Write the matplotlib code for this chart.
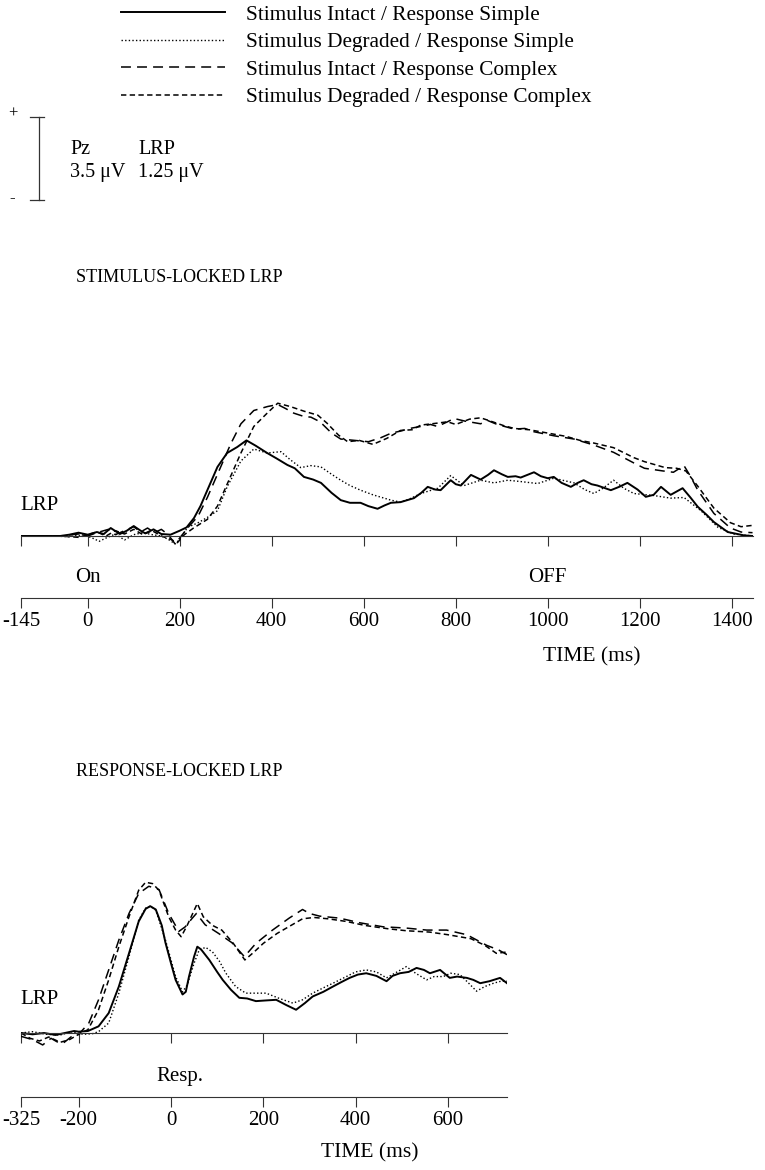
import matplotlib
matplotlib.use("Agg")
import matplotlib.pyplot as plt

plt.rcParams["font.family"] = ["Liberation Serif", "DejaVu Serif"]

# ---------------------------------------------------------------------------
# Data (ms, µV)
# ---------------------------------------------------------------------------
LABELS = [
    "Stimulus Intact / Response Simple",
    "Stimulus Degraded / Response Simple",
    "Stimulus Intact / Response Complex",
    "Stimulus Degraded / Response Complex",
]

# stimulus-locked LRP
stim_t_is = [-145, -100, -60, -40, -20, 0, 20, 35, 50, 70, 85, 100, 115, 125, 143, 160, 180,
             200, 215, 231, 245, 260, 282, 303, 325, 345, 365, 390, 410, 434, 450, 470, 490,
             507, 530, 550, 570, 593, 610, 630, 645, 659, 680, 709, 725, 739, 755, 767, 789,
             800, 811, 833, 854, 870, 883, 900, 913, 930, 941, 970, 985, 1000, 1013, 1030,
             1050, 1065, 1078, 1095, 1108, 1137, 1155, 1173, 1195, 1213, 1230, 1246, 1267,
             1293, 1310, 1326, 1345, 1361, 1391, 1426, 1445]
stim_v_is = [0.0, 0.0, 0.0, 0.02, 0.05, 0.02, 0.06, 0.03, 0.12, 0.03, 0.08, 0.15, 0.08, 0.04,
             0.10, 0.03, 0.02, 0.08, 0.13, 0.27, 0.45, 0.69, 1.04, 1.25, 1.34, 1.44, 1.36, 1.25,
             1.17, 1.07, 1.02, 0.89, 0.85, 0.80, 0.65, 0.54, 0.50, 0.50, 0.45, 0.41, 0.46, 0.50,
             0.51, 0.57, 0.65, 0.74, 0.70, 0.69, 0.84, 0.78, 0.76, 0.92, 0.85, 0.92, 0.99, 0.93,
             0.89, 0.90, 0.88, 0.96, 0.90, 0.87, 0.89, 0.80, 0.74, 0.80, 0.84, 0.78, 0.76, 0.69,
             0.74, 0.80, 0.70, 0.59, 0.62, 0.74, 0.62, 0.72, 0.58, 0.44, 0.32, 0.21, 0.06, 0.01,
             0.0]

stim_t_ds = [-145, -80, -40, -10, 10, 25, 40, 60, 80, 100, 120, 140, 160, 175, 190, 200, 217,
             240, 260, 282, 303, 333, 361, 390, 420, 440, 463, 485, 507, 530, 550, 570, 593,
             620, 659, 680, 700, 724, 761, 789, 818, 854, 883, 913, 941, 978, 1013, 1057, 1080,
             1100, 1120, 1143, 1165, 1187, 1230, 1267, 1296, 1333, 1370, 1404, 1445]
stim_v_ds = [0.0, 0.0, -0.01, 0.02, -0.03, -0.08, -0.03, 0.03, -0.06, 0.02, 0.05, 0.02, 0.0,
             -0.05, -0.12, -0.05, 0.13, 0.20, 0.28, 0.38, 0.74, 1.13, 1.31, 1.25, 1.27, 1.15,
             1.03, 1.06, 1.04, 0.93, 0.84, 0.76, 0.69, 0.62, 0.54, 0.51, 0.56, 0.64, 0.72, 0.91,
             0.76, 0.84, 0.80, 0.84, 0.82, 0.79, 0.87, 0.80, 0.70, 0.64, 0.72, 0.84, 0.72, 0.64,
             0.61, 0.57, 0.58, 0.38, 0.13, 0.03, 0.0]

stim_t_ic = [-145, -60, -20, 0, 20, 45, 60, 80, 100, 115, 130, 145, 160, 175, 190, 200, 217,
             240, 260, 289, 311, 333, 361, 391, 413, 430, 448, 470, 485, 505, 530, 550, 580,
             610, 637, 660, 680, 700, 724, 745, 760, 782, 796, 820, 854, 869, 890, 927, 950,
             970, 1013, 1057, 1100, 1143, 1165, 1187, 1210, 1230, 1250, 1273, 1296, 1310,
             1326, 1361, 1397, 1420, 1445]
stim_v_ic = [0.0, 0.0, 0.03, 0.0, 0.05, 0.10, 0.02, 0.08, 0.14, 0.06, 0.12, 0.05, 0.10, 0.02,
             -0.12, -0.03, 0.12, 0.30, 0.58, 1.04, 1.39, 1.69, 1.89, 1.95, 1.98, 1.92, 1.85,
             1.80, 1.79, 1.72, 1.55, 1.46, 1.44, 1.42, 1.48, 1.55, 1.58, 1.62, 1.65, 1.68, 1.65,
             1.72, 1.77, 1.73, 1.69, 1.74, 1.68, 1.61, 1.62, 1.57, 1.51, 1.46, 1.37, 1.26, 1.18,
             1.10, 1.02, 1.00, 0.98, 0.96, 1.06, 0.90, 0.69, 0.34, 0.12, 0.06, 0.05]

stim_t_dc = [-145, -60, -20, 0, 20, 40, 60, 80, 100, 120, 140, 160, 180, 195, 210, 230, 260,
             282, 303, 333, 361, 390, 413, 440, 470, 500, 520, 545, 565, 590, 620, 650, 680,
             705, 724, 760, 782, 800, 830, 854, 880, 905, 927, 960, 1000, 1040, 1070, 1100,
             1143, 1187, 1210, 1230, 1255, 1280, 1300, 1326, 1361, 1397, 1420, 1445]
stim_v_dc = [0.0, 0.0, -0.02, 0.02, 0.06, 0.0, 0.08, 0.03, 0.10, 0.02, 0.08, 0.0, -0.05,
             -0.10, 0.02, 0.12, 0.25, 0.45, 0.78, 1.25, 1.65, 1.85, 2.0, 1.95, 1.88, 1.82, 1.70,
             1.52, 1.42, 1.44, 1.38, 1.47, 1.59, 1.60, 1.67, 1.70, 1.72, 1.68, 1.76, 1.78, 1.72,
             1.66, 1.62, 1.60, 1.55, 1.50, 1.44, 1.40, 1.33, 1.18, 1.12, 1.08, 1.03, 1.02, 0.98,
             0.75, 0.42, 0.20, 0.14, 0.16]

# response-locked LRP
resp_t_is = [-325, -300, -275, -250, -230, -210, -200, -180, -157, -135, -113, -91, -70, -55,
             -45, -33, -20, -12, 0, 10, 25, 32, 39, 50, 57, 65, 83, 100, 112, 130, 148, 165,
             184, 205, 228, 250, 271, 290, 307, 330, 351, 370, 387, 405, 423, 445, 467, 480,
             496, 515, 532, 548, 561, 583, 604, 620, 641, 655, 670, 690, 713, 728]
resp_v_is = [0.0, -0.02, 0.0, -0.03, 0.0, 0.03, 0.02, 0.03, 0.10, 0.30, 0.70, 1.20, 1.68, 1.87,
             1.91, 1.86, 1.62, 1.36, 1.05, 0.80, 0.58, 0.62, 0.85, 1.15, 1.30, 1.26, 1.10, 0.92,
             0.80, 0.65, 0.53, 0.52, 0.48, 0.49, 0.50, 0.42, 0.35, 0.45, 0.55, 0.62, 0.70, 0.77,
             0.83, 0.88, 0.90, 0.86, 0.78, 0.86, 0.90, 0.92, 0.98, 0.95, 0.90, 0.95, 0.83, 0.85,
             0.83, 0.80, 0.75, 0.78, 0.83, 0.75]

resp_t_ds = [-325, -300, -270, -240, -215, -190, -170, -157, -135, -113, -91, -70, -55, -45,
             -33, -12, 10, 25, 35, 50, 61, 75, 90, 105, 119, 140, 162, 185, 206, 235, 264, 285,
             307, 330, 351, 380, 400, 423, 445, 467, 490, 510, 530, 554, 570, 590, 606, 626,
             645, 662, 680, 699, 715, 728]
resp_v_ds = [0.0, 0.02, -0.02, -0.03, 0.02, -0.02, -0.01, 0.02, 0.15, 0.60, 1.15, 1.70, 1.88,
             1.91, 1.85, 1.40, 0.85, 0.62, 0.72, 1.05, 1.25, 1.29, 1.22, 1.08, 0.90, 0.70, 0.60,
             0.60, 0.60, 0.52, 0.45, 0.50, 0.60, 0.68, 0.75, 0.85, 0.92, 0.95, 0.92, 0.83, 0.92,
             1.0, 0.90, 0.80, 0.85, 0.85, 0.90, 0.88, 0.75, 0.63, 0.70, 0.75, 0.78, 0.78]

resp_t_ic = [-325, -300, -278, -260, -245, -233, -215, -200, -178, -157, -135, -113, -91, -70,
             -48, -26, -5, 17, 31, 45, 55, 74, 103, 132, 150, 159, 184, 220, 256, 285, 300, 322,
             365, 409, 459, 510, 554, 597, 641, 684, 710, 728]
resp_v_ic = [-0.05, -0.10, -0.18, -0.08, -0.14, -0.15, -0.05, -0.02, 0.15, 0.50, 0.95, 1.40,
             1.80, 2.10, 2.21, 2.16, 1.80, 1.53, 1.60, 1.72, 1.80, 1.63, 1.50, 1.36, 1.22, 1.15,
             1.35, 1.55, 1.73, 1.86, 1.80, 1.76, 1.73, 1.66, 1.60, 1.58, 1.55, 1.55, 1.48, 1.32,
             1.25, 1.18]

resp_t_dc = [-325, -305, -285, -265, -240, -220, -200, -180, -157, -135, -113, -91, -70, -55,
             -40, -26, -5, 10, 22, 35, 57, 70, 90, 110, 135, 160, 180, 200, 230, 260, 285, 310,
             340, 380, 420, 470, 510, 560, 600, 650, 680, 705, 728]
resp_v_dc = [0.0, -0.08, -0.12, -0.06, -0.14, -0.10, -0.02, 0.05, 0.35, 0.80, 1.30, 1.75,
             2.15, 2.27, 2.25, 2.15, 1.75, 1.55, 1.45, 1.62, 1.95, 1.75, 1.62, 1.55, 1.35, 1.10,
             1.22, 1.35, 1.50, 1.62, 1.72, 1.74, 1.72, 1.68, 1.62, 1.57, 1.54, 1.52, 1.48, 1.42,
             1.32, 1.20, 1.22]

STIM_TICKS = [-145, 0, 200, 400, 600, 800, 1000, 1200, 1400]
RESP_TICKS = [-325, -200, 0, 200, 400, 600]

# ---------------------------------------------------------------------------
# Layout helpers (pixel -> figure fraction)
# ---------------------------------------------------------------------------
W, H = 765, 1170
PX_PER_UV = 66.4          # 1.25 µV LRP scale bar is ~83 px tall


def fx(px):
    return px / W


def fy(py):
    return 1 - py / H


STYLES = [
    dict(color="black", lw=1.4, ls="-"),
    dict(color="black", lw=1.0, ls=(0, (1, 1.6))),
    dict(color="black", lw=1.1, ls=(0, (6.5, 4))),
    dict(color="black", lw=1.1, ls=(0, (3.5, 2.2))),
]

fig = plt.figure(figsize=(W / 100, H / 100), dpi=100, facecolor="white")


def panel(t_series, v_series, xlim, ticks, left, right, base_y, top_y, bot_y, axis_y):
    """Trace axes with zero-line ticks plus a separate time axis underneath."""
    ylim = ((base_y - bot_y) / PX_PER_UV, (base_y - top_y) / PX_PER_UV)
    ax = fig.add_axes([fx(left), fy(bot_y), fx(right - left), (bot_y - top_y) / H])
    ax.set_xlim(*xlim)
    ax.set_ylim(*ylim)
    ax.patch.set_visible(False)
    for s in ("left", "right", "top"):
        ax.spines[s].set_visible(False)
    ax.spines["bottom"].set_position(("data", 0))
    ax.spines["bottom"].set_linewidth(0.8)
    ax.spines["bottom"].set_color("#333333")
    ax.set_yticks([])
    ax.set_xticks(ticks)
    ax.tick_params(axis="x", direction="out", length=7, width=0.8, color="#333333",
                   labelbottom=False)
    lines = []
    for t, v, st in zip(t_series, v_series, STYLES):
        ln, = ax.plot(t, v, **st)
        lines.append(ln)

    tax = fig.add_axes([fx(left), fy(axis_y), fx(right - left), 0.0001])
    tax.set_xlim(*xlim)
    tax.patch.set_visible(False)
    for s in ("left", "right", "top"):
        tax.spines[s].set_visible(False)
    tax.spines["bottom"].set_linewidth(0.8)
    tax.spines["bottom"].set_color("#333333")
    tax.set_yticks([])
    tax.set_xticks(ticks)
    tax.set_xticklabels([str(v) for v in ticks], fontsize=15)
    tax.tick_params(axis="x", direction="out", length=7, width=0.8, color="#333333", pad=3)
    return ax, lines


# stimulus-locked panel
ax1, handles = panel([stim_t_is, stim_t_ds, stim_t_ic, stim_t_dc],
                     [stim_v_is, stim_v_ds, stim_v_ic, stim_v_dc],
                     (-145, 1446), STIM_TICKS, 21, 753, 536, 380, 560, 598)
ax1.text(0, (536 - 577) / PX_PER_UV, "On", ha="center", va="center", fontsize=15)
ax1.text(1000, (536 - 577) / PX_PER_UV, "OFF", ha="center", va="center", fontsize=15)
ax1.text(1095, (536 - 657) / PX_PER_UV, "TIME (ms)", ha="center", va="center", fontsize=15.5)
fig.text(fx(20), fy(505), "LRP", ha="left", va="center", fontsize=15)
fig.text(fx(76), fy(278), "STIMULUS-LOCKED LRP", ha="left", va="center", fontsize=13)

# response-locked panel
ax2, _ = panel([resp_t_is, resp_t_ds, resp_t_ic, resp_t_dc],
               [resp_v_is, resp_v_ds, resp_v_ic, resp_v_dc],
               (-325, 728), RESP_TICKS, 21, 507, 1033, 860, 1055, 1097)
ax2.text(20, (1033 - 1077) / PX_PER_UV, "Resp.", ha="center", va="center", fontsize=15)
ax2.text(430, (1033 - 1153) / PX_PER_UV, "TIME (ms)", ha="center", va="center", fontsize=15.5)
fig.text(fx(20), fy(1000), "LRP", ha="left", va="center", fontsize=15)
fig.text(fx(76), fy(772), "RESPONSE-LOCKED LRP", ha="left", va="center", fontsize=13)

# legend
fig.legend(handles, LABELS, loc="upper left", bbox_to_anchor=(fx(121), fy(5)),
           frameon=False, fontsize=15.3, handlelength=4.9, handletextpad=1.0,
           labelspacing=0.36, borderpad=0, borderaxespad=0)

# amplitude scale bar (1.25 µV for LRP)
sb = fig.add_axes([0, 0, 1, 1])
sb.set_xlim(0, W)
sb.set_ylim(H, 0)
sb.axis("off")
bar_top = 117
bar_bot = bar_top + 1.25 * PX_PER_UV
sb.plot([39, 39], [bar_top, bar_bot], color="#333333", lw=0.9)
sb.plot([30, 44], [bar_top, bar_top], color="#333333", lw=0.9)
sb.plot([30, 44], [bar_bot, bar_bot], color="#333333", lw=0.9)
sb.text(13, bar_top - 3, "+", ha="center", va="center", fontsize=12)
sb.text(12, bar_bot - 2, "-", ha="center", va="center", fontsize=12)
sb.text(70, 150, "Pz", ha="left", va="center", fontsize=14.5)
sb.text(138, 150, "LRP", ha="left", va="center", fontsize=14.5)
sb.text(70, 172, "3.5 \u03bcV", ha="left", va="center", fontsize=14.5)
sb.text(138, 172, "1.25 \u03bcV", ha="left", va="center", fontsize=14.5)

fig.savefig("out.png", dpi=100, facecolor="white")
